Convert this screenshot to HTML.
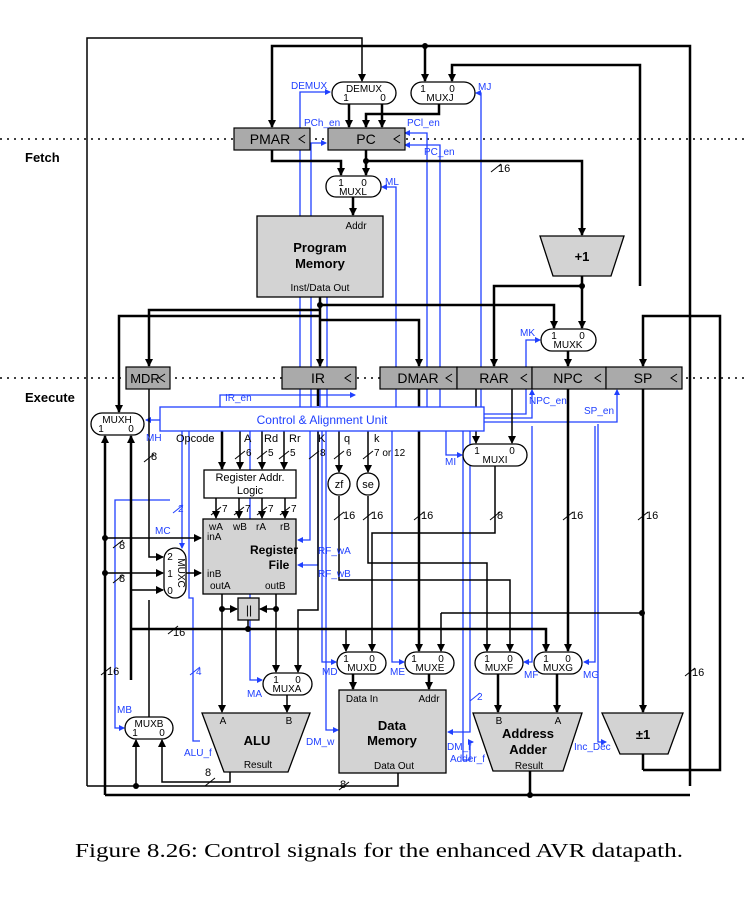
<!DOCTYPE html>
<html><head><meta charset="utf-8"><style>
body{margin:0;background:#fff}
svg{display:block}
text{font-family:"Liberation Sans",sans-serif}
text.cap{font-family:"Liberation Serif",serif}
</style></head><body>
<svg width="748" height="900" viewBox="0 0 748 900" xmlns="http://www.w3.org/2000/svg">
<defs>
<marker id="a" markerWidth="8" markerHeight="8" refX="7" refY="4" orient="auto" markerUnits="userSpaceOnUse"><path d="M0,0 L8,4 L0,8z" fill="#000"/></marker>
<marker id="b" markerWidth="6" markerHeight="6" refX="5" refY="3" orient="auto" markerUnits="userSpaceOnUse"><path d="M0,0 L6,3 L0,6z" fill="#2040ff"/></marker>
</defs>
<g stroke="#000" stroke-width="1.5" stroke-dasharray="2,5">
<line x1="0" y1="139" x2="745" y2="139"/><line x1="0" y1="378" x2="745" y2="378"/>
</g>
<text x="25" y="162" font-size="13" font-weight="bold">Fetch</text>
<text x="25" y="402" font-size="13" font-weight="bold">Execute</text>

<g stroke="#2040ff" stroke-width="1.3" fill="none">
<polyline points="300,407 300,92 330,92" marker-end="url(#b)"/>
<polyline points="311,407 311,143 326,143" marker-end="url(#b)"/>
<polyline points="427,407 427,133 405,133" marker-end="url(#b)"/>
<polyline points="440,407 440,145 405,145" marker-end="url(#b)"/>
<polyline points="396,407 396,187 382,187" marker-end="url(#b)"/>
<polyline points="481,407 481,93 476,93" marker-end="url(#b)"/>
<polyline points="484,414 526,414 526,340 540,340" marker-end="url(#b)"/>
<polyline points="484,418 532,418 532,390" marker-end="url(#b)"/>
<polyline points="484,422 617,422 617,390" marker-end="url(#b)"/>
<polyline points="160,420 146,420" marker-end="url(#b)"/>
<polyline points="220,407 220,395 355,395" marker-end="url(#b)"/>
<polyline points="446,431 446,455 462,455" marker-end="url(#b)"/>
<polyline points="189,431 189,598 193,598 193,741 200,741" />
<polyline points="182,431 182,548" marker-end="url(#b)"/>
<polyline points="170,500 115,500 115,728 124,728" marker-end="url(#b)"/>
<polyline points="250,431 250,680 262,680" marker-end="url(#b)"/>
<polyline points="310,431 310,540 298,540" marker-end="url(#b)"/>
<polyline points="318,431 318,565 298,565" marker-end="url(#b)"/>
<polyline points="322,431 322,662 336,662" marker-end="url(#b)"/>
<polyline points="326,431 326,730 338,730" marker-end="url(#b)"/>
<polyline points="392,431 392,662 404,662" marker-end="url(#b)"/>
<polyline points="463,431 463,760 470,760 470,742 473,742" marker-end="url(#b)"/>
<polyline points="470,431 470,732 448,732" marker-end="url(#b)"/>
<polyline points="532,426 532,662 524,662" marker-end="url(#b)"/>
<polyline points="595,426 595,662 584,662" marker-end="url(#b)"/>
<polyline points="598,424 598,742 606,742" marker-end="url(#b)"/>
<line x1="320" y1="297" x2="320" y2="407"/><line x1="327" y1="297" x2="327" y2="407"/>
</g>

<g stroke="#000" stroke-width="1.5" fill="none">
<polyline points="87,786 87,38 362,38 362,81" marker-end="url(#a)"/>
<polyline points="87,786 398,786 398,773"/>
</g>
<g stroke="#000" stroke-width="2.5" fill="none">
<polyline points="690,786 690,46 272,46 272,127" marker-end="url(#a)"/>
<line x1="425" y1="46" x2="425" y2="81" marker-end="url(#a)"/>
<polyline points="640,286 640,65 452,65 452,81" marker-end="url(#a)"/>
<polyline points="439,104 439,114 366,114 366,127" marker-end="url(#a)"/>
<line x1="349" y1="104" x2="349" y2="127" marker-end="url(#a)"/>
<line x1="382" y1="104" x2="382" y2="127" marker-end="url(#a)"/>
<polyline points="272,150 272,161 341,161 341,175" marker-end="url(#a)"/>
<line x1="366" y1="150" x2="366" y2="175" marker-end="url(#a)"/>
<polyline points="366,161 582,161 582,235" marker-end="url(#a)"/>
<line x1="353" y1="197" x2="353" y2="215" marker-end="url(#a)"/>
<line x1="582" y1="276" x2="582" y2="328" marker-end="url(#a)"/>
<polyline points="582,286 494,286 494,366" marker-end="url(#a)"/>
<line x1="320" y1="297" x2="320" y2="366" marker-end="url(#a)"/>
<polyline points="320,305 554,305 554,328" marker-end="url(#a)"/>
<polyline points="320,310 149,310 149,366" marker-end="url(#a)"/>
<polyline points="320,316 119,316 119,412" marker-end="url(#a)"/>
<polyline points="320,320 419,320 419,366" marker-end="url(#a)"/>
<line x1="568" y1="351" x2="568" y2="366" marker-end="url(#a)"/>
<polyline points="643,770 720,770 720,316 643,316 643,366" marker-end="url(#a)"/>
<line x1="643" y1="754" x2="643" y2="770"/>
<line x1="643" y1="389" x2="643" y2="712" marker-end="url(#a)"/>
<polyline points="105,795 690,795"/>
<line x1="105" y1="795" x2="105" y2="436" marker-end="url(#a)"/>
<polyline points="131,680 131,436" marker-end="url(#a)"/>
<line x1="222" y1="431" x2="222" y2="469" marker-end="url(#a)"/>
<line x1="419" y1="389" x2="419" y2="651" marker-end="url(#a)"/>
<line x1="568" y1="389" x2="568" y2="651" marker-end="url(#a)"/>
<line x1="318" y1="389" x2="318" y2="406"/>
<line x1="353" y1="674" x2="353" y2="689" marker-end="url(#a)"/>
<line x1="429" y1="674" x2="429" y2="689" marker-end="url(#a)"/>
<line x1="498" y1="674" x2="498" y2="712" marker-end="url(#a)"/>
<line x1="557" y1="674" x2="557" y2="712" marker-end="url(#a)"/>
<polyline points="131,629 546,629 546,651" marker-end="url(#a)"/>
<line x1="530" y1="771" x2="530" y2="795"/>
</g>
<g stroke="#000" stroke-width="1.5" fill="none">
<line x1="240" y1="431" x2="240" y2="469" marker-end="url(#a)"/>
<line x1="262" y1="431" x2="262" y2="469" marker-end="url(#a)"/>
<line x1="284" y1="431" x2="284" y2="469" marker-end="url(#a)"/>
<line x1="339" y1="431" x2="339" y2="472" marker-end="url(#a)"/>
<line x1="368" y1="431" x2="368" y2="472" marker-end="url(#a)"/>
<line x1="216" y1="498" x2="216" y2="518" marker-end="url(#a)"/>
<line x1="239" y1="498" x2="239" y2="518" marker-end="url(#a)"/>
<line x1="262" y1="498" x2="262" y2="518" marker-end="url(#a)"/>
<line x1="285" y1="498" x2="285" y2="518" marker-end="url(#a)"/>
<polyline points="149,389 149,557 163,557" marker-end="url(#a)"/>
<line x1="105" y1="538" x2="201" y2="538" marker-end="url(#a)"/>
<line x1="105" y1="573" x2="163" y2="573" marker-end="url(#a)"/>
<line x1="186" y1="573" x2="201" y2="573" marker-end="url(#a)"/>
<polyline points="131,590 163,590" marker-end="url(#a)"/>
<line x1="222" y1="594" x2="222" y2="712" marker-end="url(#a)"/>
<line x1="222" y1="609" x2="237" y2="609" marker-end="url(#a)"/>
<polyline points="276,594 276,672" marker-end="url(#a)"/>
<line x1="276" y1="609" x2="260" y2="609" marker-end="url(#a)"/>
<polyline points="318,431 318,610 298,610 298,672" marker-end="url(#a)"/>
<line x1="287" y1="695" x2="287" y2="712" marker-end="url(#a)"/>
<polyline points="339,496 339,580 510,580 510,651" marker-end="url(#a)"/>
<polyline points="368,496 368,563 487,563 487,651" marker-end="url(#a)"/>
<polyline points="476,389 476,443" marker-end="url(#a)"/>
<polyline points="512,389 512,443" marker-end="url(#a)"/>
<polyline points="495,466 495,533 372,533 372,651" marker-end="url(#a)"/>
<polyline points="248,620 248,629"/>
<polyline points="149,600 149,717"/>
<polyline points="230,772 230,782 162,782 162,740" marker-end="url(#a)"/>
<line x1="136" y1="786" x2="136" y2="740" marker-end="url(#a)"/>
<polyline points="346,629 346,651" marker-end="url(#a)"/>
<polyline points="441,613 441,651" marker-end="url(#a)"/>
<polyline points="441,613 642,613"/>
</g>
<g stroke="#000" stroke-width="1">
<path d="M144,462 l10,-8 M113,548 l10,-8 M113,583 l10,-8 M168,634 l10,-8 M101,675 l10,-8 M235,459 l10,-8 M257,459 l10,-8 M279,459 l10,-8 M309,459 l10,-8 M334,459 l10,-8 M363,459 l10,-8 M211,515 l10,-8 M234,515 l10,-8 M257,515 l10,-8 M280,515 l10,-8 M334,520 l10,-8 M363,520 l10,-8 M414,520 l10,-8 M490,520 l10,-8 M563,520 l10,-8 M638,520 l10,-8 M685,676 l10,-8 M491,172 l10,-8 M205,786 l10,-8 M339,790 l10,-8"/>
</g>
<g stroke="#2040ff" stroke-width="1"><path d="M173,513 l10,-8 M190,675 l10,-8 M470,701 l10,-8"/></g>

<g fill="#000">
<circle cx="425" cy="46" r="3"/><circle cx="366" cy="161" r="3"/><circle cx="582" cy="286" r="3"/>
<circle cx="320" cy="305" r="3"/><circle cx="642" cy="613" r="3"/><circle cx="530" cy="795" r="3"/>
<circle cx="136" cy="786" r="3"/><circle cx="248" cy="629" r="3"/><circle cx="105" cy="538" r="3"/>
<circle cx="105" cy="573" r="3"/><circle cx="222" cy="609" r="3"/><circle cx="276" cy="609" r="3"/>
</g>

<g stroke="#000" stroke-width="1.2" fill="#aaa">
<rect x="234" y="128" width="76" height="22"/><rect x="328" y="128" width="77" height="22"/>
<rect x="126" y="367" width="44" height="22"/><rect x="282" y="367" width="74" height="22"/>
<rect x="380" y="367" width="77" height="22"/><rect x="457" y="367" width="75" height="22"/>
<rect x="532" y="367" width="74" height="22"/><rect x="606" y="367" width="76" height="22"/>
</g>
<g font-size="14" text-anchor="middle">
<text x="270" y="144">PMAR</text><text x="366" y="144">PC</text>
<text x="145" y="383" font-size="13">MDR</text><text x="318" y="383">IR</text>
<text x="418" y="383">DMAR</text><text x="494" y="383">RAR</text>
<text x="568" y="383">NPC</text><text x="643" y="383">SP</text>
</g>
<g stroke="#000" fill="none" stroke-width="1"><path d="M305,135 L299,139 L305,143 M400,135 L394,139 L400,143 M165,374 L159,378 L165,382 M351,374 L345,378 L351,382 M452,374 L446,378 L452,382 M527,374 L521,378 L527,382 M601,374 L595,378 L601,382 M677,374 L671,378 L677,382"/></g>

<g stroke="#000" stroke-width="1.3" fill="#fff">
<rect x="332" y="82" width="64" height="22" rx="11"/><rect x="411" y="82" width="64" height="22" rx="11"/>
<rect x="326" y="176" width="55" height="21" rx="10"/><rect x="541" y="329" width="55" height="22" rx="11"/>
<rect x="91" y="413" width="53" height="22" rx="11"/><rect x="463" y="444" width="64" height="22" rx="11"/>
<rect x="164" y="548" width="22" height="50" rx="11"/>
<rect x="263" y="673" width="49" height="22" rx="11"/><rect x="337" y="652" width="49" height="22" rx="11"/>
<rect x="405" y="652" width="49" height="22" rx="11"/><rect x="475" y="652" width="48" height="22" rx="11"/>
<rect x="534" y="652" width="48" height="22" rx="11"/><rect x="125" y="717" width="48" height="22" rx="11"/>
<circle cx="339" cy="484" r="11"/><circle cx="368" cy="484" r="11"/>
</g>
<g font-size="10" text-anchor="middle">
<text x="364" y="92">DEMUX</text><text x="346" y="101">1</text><text x="383" y="101">0</text>
<text x="423" y="92">1</text><text x="452" y="92">0</text><text x="440" y="101">MUXJ</text>
<text x="341" y="186">1</text><text x="364" y="186">0</text><text x="353" y="195">MUXL</text>
<text x="554" y="339">1</text><text x="582" y="339">0</text><text x="568" y="348">MUXK</text>
<text x="117" y="423">MUXH</text><text x="101" y="432">1</text><text x="131" y="432">0</text>
<text x="477" y="454">1</text><text x="512" y="454">0</text><text x="495" y="463">MUXI</text>
<text x="276" y="683">1</text><text x="298" y="683">0</text><text x="287" y="692">MUXA</text>
<text x="346" y="662">1</text><text x="372" y="662">0</text><text x="362" y="671">MUXD</text>
<text x="414" y="662">1</text><text x="441" y="662">0</text><text x="430" y="671">MUXE</text>
<text x="487" y="662">1</text><text x="510" y="662">0</text><text x="499" y="671">MUXF</text>
<text x="546" y="662">1</text><text x="568" y="662">0</text><text x="558" y="671">MUXG</text>
<text x="149" y="727">MUXB</text><text x="135" y="736">1</text><text x="162" y="736">0</text>
<text x="339" y="488" font-size="11">zf</text><text x="368" y="488" font-size="11">se</text>
<text transform="translate(178,573) rotate(90)">MUXC</text>
<text x="170" y="560">2</text><text x="170" y="577">1</text><text x="170" y="594">0</text>
</g>

<g stroke="#000" stroke-width="1.3" fill="#d3d3d3">
<rect x="257" y="216" width="126" height="81"/>
<rect x="339" y="690" width="107" height="83"/>
<rect x="203" y="519" width="93" height="75"/>
<rect x="238" y="598" width="21" height="22"/>
<path d="M540,236 L624,236 L611,276 L553,276z"/>
<path d="M202,713 L310,713 L288,772 L224,772z"/>
<path d="M473,713 L582,713 L563,771 L493,771z"/>
<path d="M602,713 L683,713 L668,754 L620,754z"/>
</g>
<rect x="204" y="470" width="92" height="28" fill="#fff" stroke="#000" stroke-width="1.3"/>
<rect x="160" y="407" width="324" height="24" fill="#fff" stroke="#2040ff" stroke-width="1.3"/>
<text x="322" y="424" font-size="12" fill="#2040ff" text-anchor="middle">Control &amp; Alignment Unit</text>
<g text-anchor="middle">
<text x="250" y="481" font-size="11">Register Addr.</text><text x="250" y="494" font-size="11">Logic</text>
<text x="356" y="229" font-size="10">Addr</text>
<text x="320" y="252" font-size="13" font-weight="bold">Program</text><text x="320" y="268" font-size="13" font-weight="bold">Memory</text>
<text x="320" y="291" font-size="10">Inst/Data Out</text>
<text x="582" y="261" font-size="13" font-weight="bold">+1</text>
<text x="643" y="739" font-size="13" font-weight="bold">±1</text>
<text x="257" y="745" font-size="13" font-weight="bold">ALU</text>
<text x="258" y="768" font-size="10">Result</text>
<text x="223" y="724" font-size="10">A</text><text x="289" y="724" font-size="10">B</text>
<text x="528" y="738" font-size="13" font-weight="bold">Address</text><text x="528" y="754" font-size="13" font-weight="bold">Adder</text>
<text x="529" y="769" font-size="10">Result</text>
<text x="499" y="724" font-size="10">B</text><text x="558" y="724" font-size="10">A</text>
<text x="392" y="730" font-size="13" font-weight="bold">Data</text><text x="392" y="745" font-size="13" font-weight="bold">Memory</text>
<text x="362" y="702" font-size="10">Data In</text><text x="429" y="702" font-size="10">Addr</text>
<text x="394" y="769" font-size="10">Data Out</text>
<text x="249" y="614" font-size="12">||</text>
<text x="274" y="554" font-size="12" font-weight="bold">Register</text><text x="279" y="569" font-size="12" font-weight="bold">File</text>
</g>
<g font-size="10">
<text x="209" y="530">wA</text><text x="233" y="530">wB</text><text x="256" y="530">rA</text><text x="280" y="530">rB</text>
<text x="207" y="540">inA</text><text x="207" y="577">inB</text><text x="210" y="589">outA</text><text x="265" y="589">outB</text>
<text x="176" y="442" font-size="11">Opcode</text><text x="244" y="442" font-size="11">A</text><text x="264" y="442" font-size="11">Rd</text><text x="289" y="442" font-size="11">Rr</text>
<text x="318" y="442" font-size="11">K</text><text x="344" y="442" font-size="11">q</text><text x="374" y="442" font-size="11">k</text>
<text x="246" y="456">6</text><text x="268" y="456">5</text><text x="290" y="456">5</text><text x="320" y="456">8</text><text x="346" y="456">6</text><text x="374" y="456">7 or 12</text>
<text x="222" y="512">7</text><text x="245" y="512">7</text><text x="268" y="512">7</text><text x="291" y="512">7</text>
<text x="151" y="460" font-size="11">8</text><text x="119" y="549" font-size="11">8</text><text x="119" y="582" font-size="11">8</text>
<text x="173" y="636" font-size="11">16</text><text x="107" y="675" font-size="11">16</text>
<text x="343" y="519" font-size="11">16</text><text x="371" y="519" font-size="11">16</text><text x="421" y="519" font-size="11">16</text>
<text x="497" y="519" font-size="11">8</text><text x="571" y="519" font-size="11">16</text><text x="646" y="519" font-size="11">16</text>
<text x="692" y="676" font-size="11">16</text><text x="498" y="172" font-size="11">16</text>
<text x="205" y="776" font-size="11">8</text><text x="340" y="788" font-size="11">8</text>
</g>
<g font-size="10" fill="#2040ff">
<text x="291" y="89">DEMUX</text><text x="304" y="126">PCh_en</text><text x="407" y="126">PCl_en</text><text x="424" y="155">PC_en</text>
<text x="385" y="185">ML</text><text x="478" y="90">MJ</text><text x="520" y="336">MK</text>
<text x="529" y="404">NPC_en</text><text x="584" y="414">SP_en</text><text x="225" y="401">IR_en</text>
<text x="146" y="441">MH</text><text x="445" y="465">MI</text><text x="155" y="534">MC</text>
<text x="178" y="512">2</text><text x="196" y="675">4</text>
<text x="318" y="554">RF_wA</text><text x="318" y="577">RF_wB</text>
<text x="247" y="697">MA</text><text x="322" y="675">MD</text><text x="390" y="675">ME</text>
<text x="524" y="678">MF</text><text x="583" y="678">MG</text>
<text x="117" y="713">MB</text><text x="184" y="756">ALU_f</text><text x="306" y="745">DM_w</text>
<text x="447" y="750">DM_r</text><text x="450" y="762">Adder_f</text><text x="574" y="750">Inc_Dec</text>
<text x="477" y="700">2</text>
</g>
<text class="cap" x="75" y="857" font-size="20" textLength="608" lengthAdjust="spacingAndGlyphs">Figure 8.26: Control signals for the enhanced AVR datapath.</text>
</svg>
</body></html>
